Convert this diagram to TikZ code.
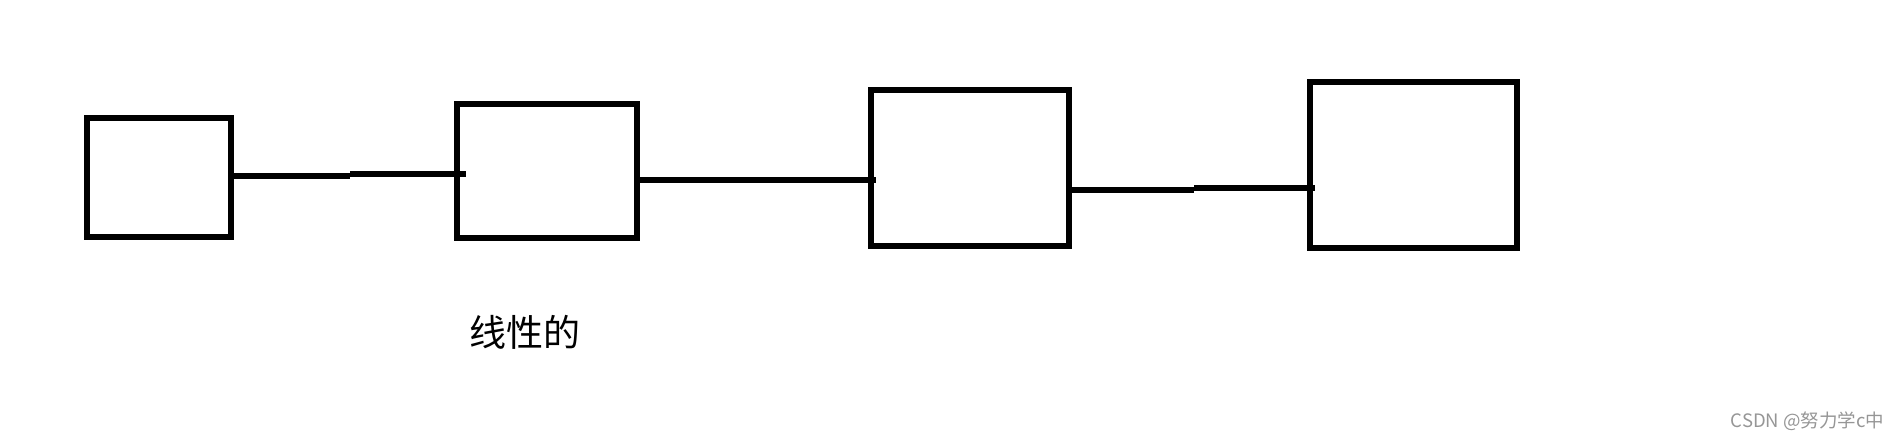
\documentclass[tikz,border=0pt]{standalone}
\usepackage{fontspec}
\newfontfamily\cjk{Noto Sans CJK SC}
\definecolor{wmgray}{RGB}{150,150,150}
\begin{document}
\begin{tikzpicture}[x=1pt,y=-1pt,
  box/.style={draw=black,line width=6pt,inner sep=0pt,outer sep=0pt,fill=none},
  link/.style={draw=black,line width=6pt}]
\useasboundingbox (0,0) rectangle (1899,440);
\node[box,minimum width=143.7pt,minimum height=119.4pt] (b1) at (158.65,177.5) {};
\node[box,minimum width=180.2pt,minimum height=134.2pt] (b2) at (546.9,170.9) {};
\node[box,minimum width=198.5pt,minimum height=156pt] (b3) at (969.75,167.5) {};
\node[box,minimum width=207.5pt,minimum height=166pt] (b4) at (1413.25,165) {};
% connector 1
\coordinate (c1a) at (231,175.6);
\coordinate (c1m) at (350,175.6);
\coordinate (c1n) at (350,173.7);
\coordinate (c1b) at (466,173.7);
\draw[link] (c1a) -- (c1m);
\draw[link] (c1n) -- (c1b);
% connector 2
\coordinate (c2a) at (637,179.7);
\coordinate (c2b) at (876,179.7);
\draw[link] (c2a) -- (c2b);
% connector 3
\coordinate (c3a) at (1069,189.7);
\coordinate (c3m) at (1194,189.7);
\coordinate (c3n) at (1194,187.7);
\coordinate (c3b) at (1315,187.7);
\draw[link] (c3a) -- (c3m);
\draw[link] (c3n) -- (c3b);
\node[inner sep=0pt] (lbl) at (524.5,332) {\cjk\fontsize{37}{40}\selectfont 线性的};
\node[inner sep=0pt,text=wmgray] (wm) at (1807.5,421) {\cjk\fontsize{18.5}{21}\selectfont CSDN @努力学c中};
\end{tikzpicture}
\end{document}
